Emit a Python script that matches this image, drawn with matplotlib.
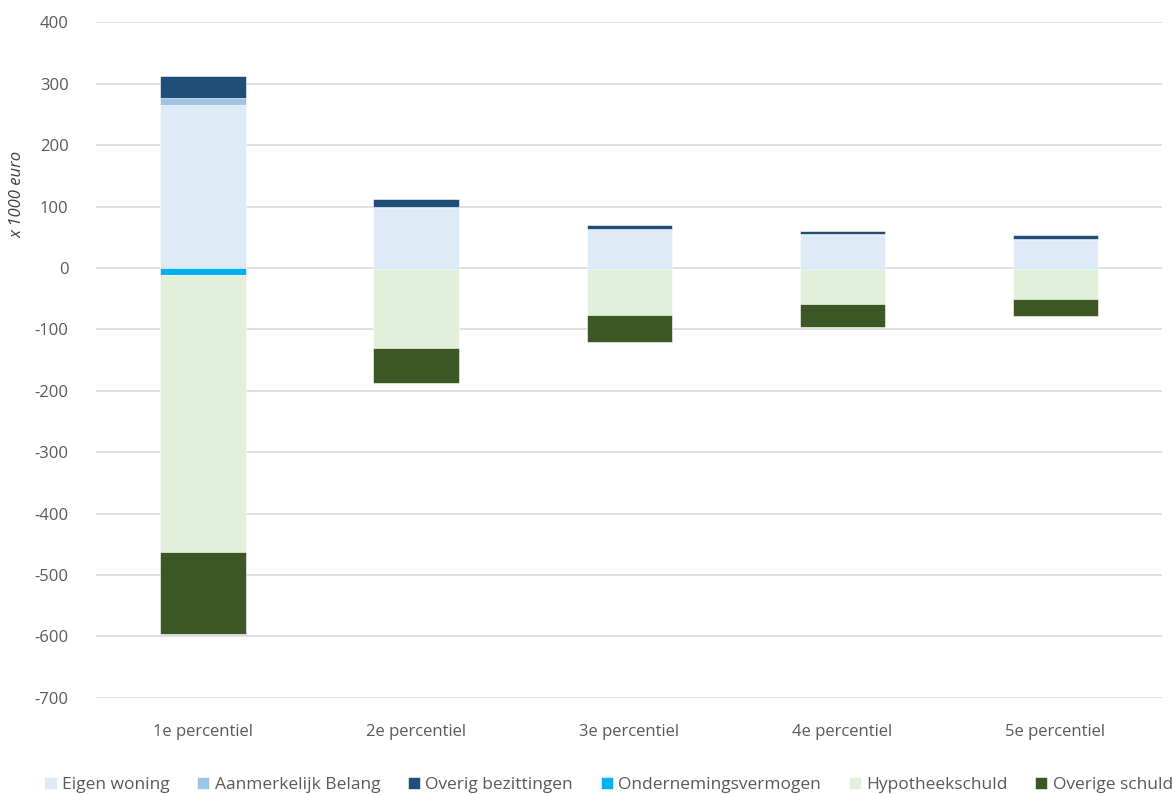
import numpy as np
import matplotlib.pyplot as plt

# Data (x 1000 euro)
categories = ['1e percentiel', '2e percentiel', '3e percentiel', '4e percentiel', '5e percentiel']

eigen_woning = [265, 98, 63, 54, 46]
aanmerkelijk_belang = [11, 2, 1, 1, 1]
overig_bezittingen = [37, 12, 6, 5, 7]
ondernemingsvermogen = [-12, -1, -1, -1, -1]
hypotheekschuld = [-451, -130, -75, -57, -49]
overige_schuld = [-133, -56, -44, -38, -28]

labels = ['Eigen woning', 'Aanmerkelijk Belang', 'Overig bezittingen',
          'Ondernemingsvermogen', 'Hypotheekschuld', 'Overige schuld']
colors = ['#DEEAF6', '#9DC3E6', '#1F4E79', '#00B0F0', '#E2EFDA', '#3A5724']

plt.rcParams['font.family'] = ['Open Sans', 'DejaVu Sans']
plt.rcParams['axes.unicode_minus'] = False

fig = plt.figure(figsize=(11.75, 7.94), dpi=100)
ax = fig.add_axes([0.082, 0.121, 0.907, 0.851])

x = np.arange(len(categories))
width = 0.4

pos_series = [eigen_woning, aanmerkelijk_belang, overig_bezittingen]
neg_series = [ondernemingsvermogen, hypotheekschuld, overige_schuld]

# positives stack upward, negatives stack downward
bottom = np.zeros(len(categories))
handles = []
for vals, c, lab in zip(pos_series, colors[:3], labels[:3]):
    b = ax.bar(x, vals, width, bottom=bottom, color=c, label=lab,
               edgecolor='white', linewidth=0.4, zorder=3)
    bottom += np.array(vals)
    handles.append(b)

bottom = np.zeros(len(categories))
for vals, c, lab in zip(neg_series, colors[3:], labels[3:]):
    b = ax.bar(x, vals, width, bottom=bottom, color=c, label=lab,
               edgecolor='white', linewidth=0.4, zorder=3)
    bottom += np.array(vals)
    handles.append(b)

ax.set_xlim(-0.5, 4.5)
ax.set_ylim(-700, 400)
ax.set_yticks(range(-700, 401, 100))
ax.set_xticks(x)
ax.set_xticklabels(categories)
ax.yaxis.grid(True, color='#D9D9D9', linewidth=1.2, zorder=0)
ax.set_axisbelow(True)
for s in ax.spines.values():
    s.set_visible(False)
ax.tick_params(axis='both', length=0, labelsize=12, labelcolor='#595959')
ax.tick_params(axis='x', pad=19)
ax.tick_params(axis='y', pad=20)
ax.set_ylabel('x 1000 euro', fontsize=12, style='italic', color='#404040', labelpad=0)
ax.yaxis.set_label_coords(-0.066, 0.745)

fig.legend(handles=handles, labels=labels, loc='lower center', ncol=6,
           bbox_to_anchor=(0.518, -0.018), frameon=False, fontsize=12.5,
           handlelength=0.7, handleheight=0.7, handletextpad=0.3,
           columnspacing=1.6, labelcolor='#595959')

fig.savefig('out.png', dpi=100)
